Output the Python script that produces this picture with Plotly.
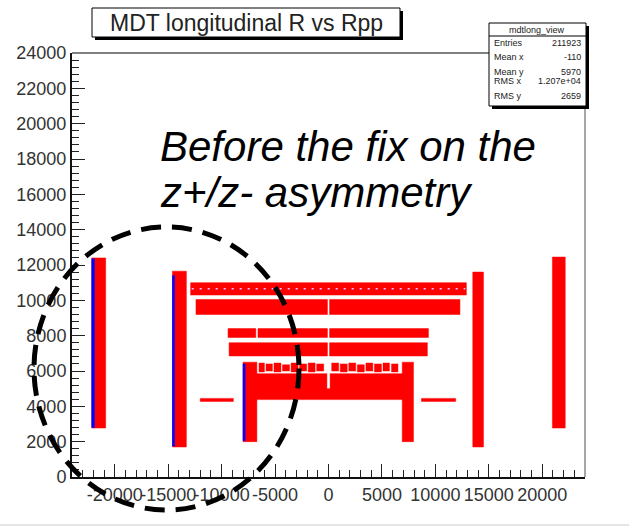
import plotly.graph_objects as go

# MDT chamber hit regions in the longitudinal view (mm): Rpp along x, R along y
red_x0 = [-22150, 20950, -14600, 13500, -8000, 6900, -12000, 8700,
          -12900, -12400, 100, -9400, -6600, 100, -9300, 100,
          -6700, -6700, 150]
red_x1 = [-20850, 22150, -13300, 14500, -6700, 7950, -8900, 11900,
          12900, -100, 12300, -6800, -100, 9350, -100, 9250,
          6900, -150, 6900]
red_y0 = [2770, 2770, 1700, 1700, 2000, 2000, 4280, 4280,
          10300, 9200, 9200, 7900, 7900, 7900, 6850, 6850,
          4380, 5000, 5000]
red_y1 = [12400, 12450, 11650, 11600, 6500, 6500, 4450, 4450,
          11000, 10050, 10050, 8400, 8400, 8400, 7600, 7600,
          5000, 5850, 5850]

# sparse row of hits above the innermost band
dot_x0 = [-6500, -5850, -5100, -4300, -3500, -2700, -1900, -1100, 300, 1100, 1900, 2700, 3500, 4300, 5100, 5900]
dot_x1 = [-6000, -5250, -4450, -3650, -2850, -2050, -1250, -450, 950, 1750, 2550, 3350, 4150, 4950, 5700, 6500]
dot_y0 = [5950, 6000, 5950, 6000, 5950, 6000, 5950, 6000, 6000, 5950, 6000, 5950, 6000, 5950, 6000, 5950]
dot_y1 = [6450, 6400, 6450, 6350, 6450, 6400, 6450, 6400, 6450, 6400, 6450, 6350, 6450, 6400, 6450, 6400]

# low-density edges of the negative-side chambers
blue_x0 = [-22150, -14600, -8000]
blue_x1 = [-21900, -14400, -7800]
blue_y0 = [2800, 1750, 2050]
blue_y1 = [12350, 11400, 6400]

# sparse seam through the outermost band
seam_x = [-12800, 12800]
seam_y = [10650, 10650]

x_ticks = [-20000, -15000, -10000, -5000, 0, 5000, 10000, 15000, 20000]
y_ticks = list(range(0, 24001, 2000))

stats_names = ["Entries", "Mean x", "Mean y", "RMS x", "RMS y"]
stats_values = ["211923", "-110", "5970", "1.207e+04", "2659"]


def rect_path(x0s, x1s, y0s, y1s):
    xs, ys = [], []
    for a, b, c, d in zip(x0s, x1s, y0s, y1s):
        xs += [a, b, b, a, a, None]
        ys += [c, c, d, d, c, None]
    return xs, ys


fig = go.Figure()
for (x0s, x1s, y0s, y1s), col in [
    ((red_x0, red_x1, red_y0, red_y1), "#ff0000"),
    ((dot_x0, dot_x1, dot_y0, dot_y1), "#ff0000"),
    ((blue_x0, blue_x1, blue_y0, blue_y1), "#0000ff"),
]:
    xs, ys = rect_path(x0s, x1s, y0s, y1s)
    fig.add_trace(go.Scatter(x=xs, y=ys, mode="lines", fill="toself",
                             fillcolor=col, line=dict(color=col, width=0.5),
                             hoverinfo="skip", showlegend=False))
fig.add_trace(go.Scatter(x=seam_x, y=seam_y, mode="lines",
                         line=dict(color="#f4c0ff", width=1.5, dash="2px,6px"),
                         hoverinfo="skip", showlegend=False))

# plot area in pixels: x 72..585, y 53..477
L, R, T, B = 72, 585, 53, 477


def px(x):
    return (x - L) / (R - L)


def py(y):
    return (B - y) / (B - T)


FONT = "Liberation Sans, Arial, Helvetica, sans-serif"

shapes = [
    # frame top and right edges
    dict(type="line", xref="paper", yref="paper", x0=0, x1=px(489), y0=1, y1=1,
         line=dict(color="#555555", width=1.5)),
    dict(type="line", xref="paper", yref="paper", x0=1, x1=1, y0=0, y1=py(106),
         line=dict(color="#888888", width=1.5)),
    # title box with shadow
    dict(type="rect", xref="paper", yref="paper", x0=px(95), x1=px(403), y0=py(40), y1=py(11),
         fillcolor="black", line=dict(width=0)),
    dict(type="rect", xref="paper", yref="paper", x0=px(92), x1=px(400), y0=py(37), y1=py(8),
         fillcolor="white", line=dict(color="black", width=1)),
    # stats box with shadow
    dict(type="rect", xref="paper", yref="paper", x0=px(492), x1=px(589), y0=py(109), y1=py(26),
         fillcolor="black", line=dict(width=0)),
    dict(type="rect", xref="paper", yref="paper", x0=px(489), x1=px(586), y0=py(106), y1=py(23),
         fillcolor="white", line=dict(color="black", width=1)),
    dict(type="line", xref="paper", yref="paper", x0=px(489), x1=px(586), y0=py(36), y1=py(36),
         line=dict(color="black", width=1)),
    # dashed highlight ellipse
    dict(type="circle", xref="paper", yref="paper", x0=px(34), x1=px(299), y0=py(510), y1=py(227),
         line=dict(color="black", width=5, dash="20px,11px")),
    # bottom separator
    dict(type="line", xref="paper", yref="paper", x0=px(0), x1=px(629), y0=py(525), y1=py(525),
         line=dict(color="#dddddd", width=1.5)),
]

annotations = [
    dict(text="MDT longitudinal R vs Rpp", xref="paper", yref="paper",
         x=px(246), y=py(23), xanchor="center", yanchor="middle", showarrow=False,
         font=dict(family=FONT, size=23, color="#222222")),
    dict(text="mdtlong_view", xref="paper", yref="paper",
         x=px(537), y=py(30), xanchor="center", yanchor="middle", showarrow=False,
         font=dict(family=FONT, size=9, color="#222222")),
    dict(text="Before the fix on the", xref="paper", yref="paper",
         x=px(158), y=py(146), xanchor="left", yanchor="middle", showarrow=False,
         align="left", font=dict(family=FONT, size=42, color="black", style="italic")),
    dict(text="z+/z- asymmetry", xref="paper", yref="paper",
         x=px(158), y=py(192), xanchor="left", yanchor="middle", showarrow=False,
         align="left", font=dict(family=FONT, size=42, color="black", style="italic")),
]
row_y = [43, 57, 72, 81, 96]
for name, val, yy in zip(stats_names, stats_values, row_y):
    annotations.append(dict(text=name, xref="paper", yref="paper", x=px(492), y=py(yy),
                            xanchor="left", yanchor="middle", showarrow=False,
                            font=dict(family=FONT, size=9, color="#222222")))
    annotations.append(dict(text=val, xref="paper", yref="paper", x=px(583), y=py(yy),
                            xanchor="right", yanchor="middle", showarrow=False,
                            font=dict(family=FONT, size=9, color="#222222")))

fig.update_layout(
    width=629, height=527,
    margin=dict(l=L, r=629 - R, t=T, b=527 - B),
    paper_bgcolor="white", plot_bgcolor="white",
    shapes=shapes, annotations=annotations,
    xaxis=dict(range=[-24000, 24000], tickvals=x_ticks, ticktext=[str(v) for v in x_ticks],
               tickangle=0, ticks="inside", ticklen=13, tickwidth=1.2, tickcolor="#222222",
               minor=dict(dtick=1000, ticks="inside", ticklen=7, tickcolor="#222222"),
               showgrid=False, zeroline=False, showline=True, linecolor="#111111", linewidth=2,
               tickfont=dict(family=FONT, size=18, color="#333333")),
    yaxis=dict(range=[0, 24000], tickvals=y_ticks, ticktext=[str(v) for v in y_ticks],
               ticks="inside", ticklen=13, tickwidth=1.2, tickcolor="#222222",
               minor=dict(dtick=400, ticks="inside", ticklen=7, tickcolor="#222222"),
               showgrid=False, zeroline=False, showline=True, linecolor="#111111", linewidth=2,
               tickfont=dict(family=FONT, size=18, color="#333333")),
)

fig.write_html("out.html")
